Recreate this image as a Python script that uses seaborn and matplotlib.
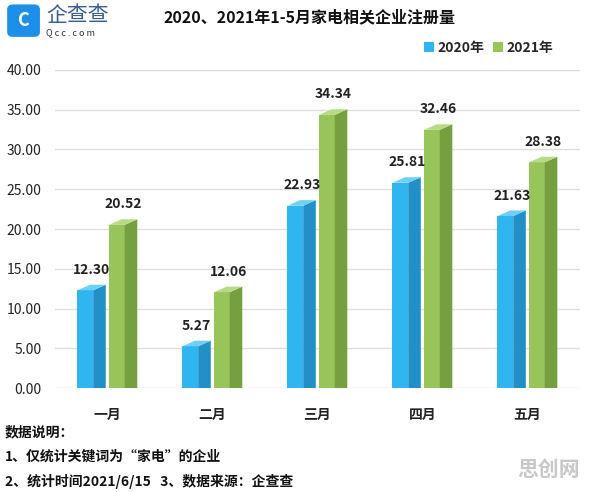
import numpy as np
import pandas as pd
import matplotlib
matplotlib.use("Agg")
import matplotlib.pyplot as plt
import seaborn as sns
from matplotlib.patches import Polygon, FancyBboxPatch, Patch

# -----------------------------
# DATA
# -----------------------------
months = ["一月", "二月", "三月", "四月", "五月"]
years = ["2020年", "2021年"]
vals_2020 = [12.30, 5.27, 22.93, 25.81, 21.63]
vals_2021 = [20.52, 12.06, 34.34, 32.46, 28.38]
y_ticks = [0, 5, 10, 15, 20, 25, 30, 35, 40]

title = "2020、2021年1-5月家电相关企业注册量"
notes = ["数据说明：", "1、仅统计关键词为“家电”的企业", "2、统计时间2021/6/15   3、数据来源：企查查"]

# colours: front, side, top
COLORS = {
    "2020年": ("#2FB6F0", "#2290C6", "#6FD0F7"),
    "2021年": ("#97C55A", "#76A03F", "#B7DA86"),
}

df = pd.DataFrame({
    "month": months * 2,
    "year": [years[0]] * len(months) + [years[1]] * len(months),
    "value": vals_2020 + vals_2021,
})

# -----------------------------
# PLOT
# -----------------------------
sns.set_theme(style="white")
plt.rcParams["font.family"] = ["Noto Sans CJK SC", "DejaVu Sans"]

fig = plt.figure(figsize=(5.96, 4.92), dpi=100)
ax = fig.add_axes([0.092, 0.211, 0.881, 0.647])

sns.barplot(data=df, x="month", y="value", hue="year", hue_order=years,
            palette=[COLORS[y][0] for y in years], width=0.6, gap=0.1,
            legend=False, ax=ax, linewidth=0, saturation=1)

depth_x = 0.12   # side depth in data units (x)
depth_y = 0.7    # top slant in data units (y)

for year, cont in zip(years, ax.containers):
    front_c, side_c, top_c = COLORS[year]
    for bar in cont:
        x0 = bar.get_x()
        w = bar.get_width()
        h = bar.get_height()
        fw = w - depth_x
        bar.set_width(fw)
        xf = x0 + fw
        side = Polygon([(xf, 0), (xf, h), (xf + depth_x, h + depth_y), (xf + depth_x, 0)],
                       closed=True, facecolor=side_c, edgecolor="none", zorder=bar.get_zorder())
        top = Polygon([(x0, h), (xf, h), (xf + depth_x, h + depth_y), (x0 + depth_x, h + depth_y)],
                      closed=True, facecolor=top_c, edgecolor="none", zorder=bar.get_zorder())
        ax.add_patch(side)
        ax.add_patch(top)
        ax.text(x0 + w / 2, h + depth_y + 1.0, f"{h:.2f}", ha="center", va="bottom",
                fontsize=10, fontweight="bold", color="#222222")

ax.set_xlim(-0.5, 4.5)
ax.set_ylim(0, 40)
ax.set_yticks(y_ticks)
ax.set_yticklabels([f"{t:.2f}" for t in y_ticks], fontsize=10, color="#222222")
ax.tick_params(axis="x", labelsize=10, colors="#222222", pad=8)
for lbl in ax.get_xticklabels():
    lbl.set_fontweight("bold")
ax.set_xlabel("")
ax.set_ylabel("")
ax.yaxis.grid(True, color="#DDDDDD", linewidth=1)
ax.set_axisbelow(True)
for s in ax.spines.values():
    s.set_visible(False)

# legend
handles = [Patch(facecolor=COLORS[y][0], edgecolor="none") for y in years]
fig.legend(handles, years, loc="center", bbox_to_anchor=(0.82, 0.902), ncol=2,
           frameon=False, handlelength=0.7, handleheight=0.7,
           handletextpad=0.3, columnspacing=0.6,
           prop={"weight": "bold", "size": 10})

# title
fig.text(0.52, 0.965, title, ha="center", va="center", fontsize=11.5, fontweight="bold",
         color="#111111")

# logo
logo = FancyBboxPatch((0.012, 0.925), 0.055, 0.066, boxstyle="round,pad=0,rounding_size=0.01",
                      transform=fig.transFigure, facecolor="#1E8FE8", edgecolor="none")
fig.patches.append(logo)
fig.text(0.0395, 0.958, "C", ha="center", va="center", fontsize=13, fontweight="bold",
         color="white")
fig.text(0.077, 0.97, "企查查", ha="left", va="center", fontsize=15, color="#3A5C94")
fig.text(0.078, 0.933, "Q c c . c o m", ha="left", va="center", fontsize=6.5, color="#333333")

# notes
for i, line in enumerate(notes):
    fig.text(0.008, 0.122 - i * 0.05, line, ha="left", va="center", fontsize=10,
             fontweight="bold", color="#111111")

fig.text(0.92, 0.045, "思创网", ha="center", va="center", fontsize=15, fontweight="bold",
         color="#BBBBBB", alpha=0.8)

fig.savefig("out.png", dpi=100)
